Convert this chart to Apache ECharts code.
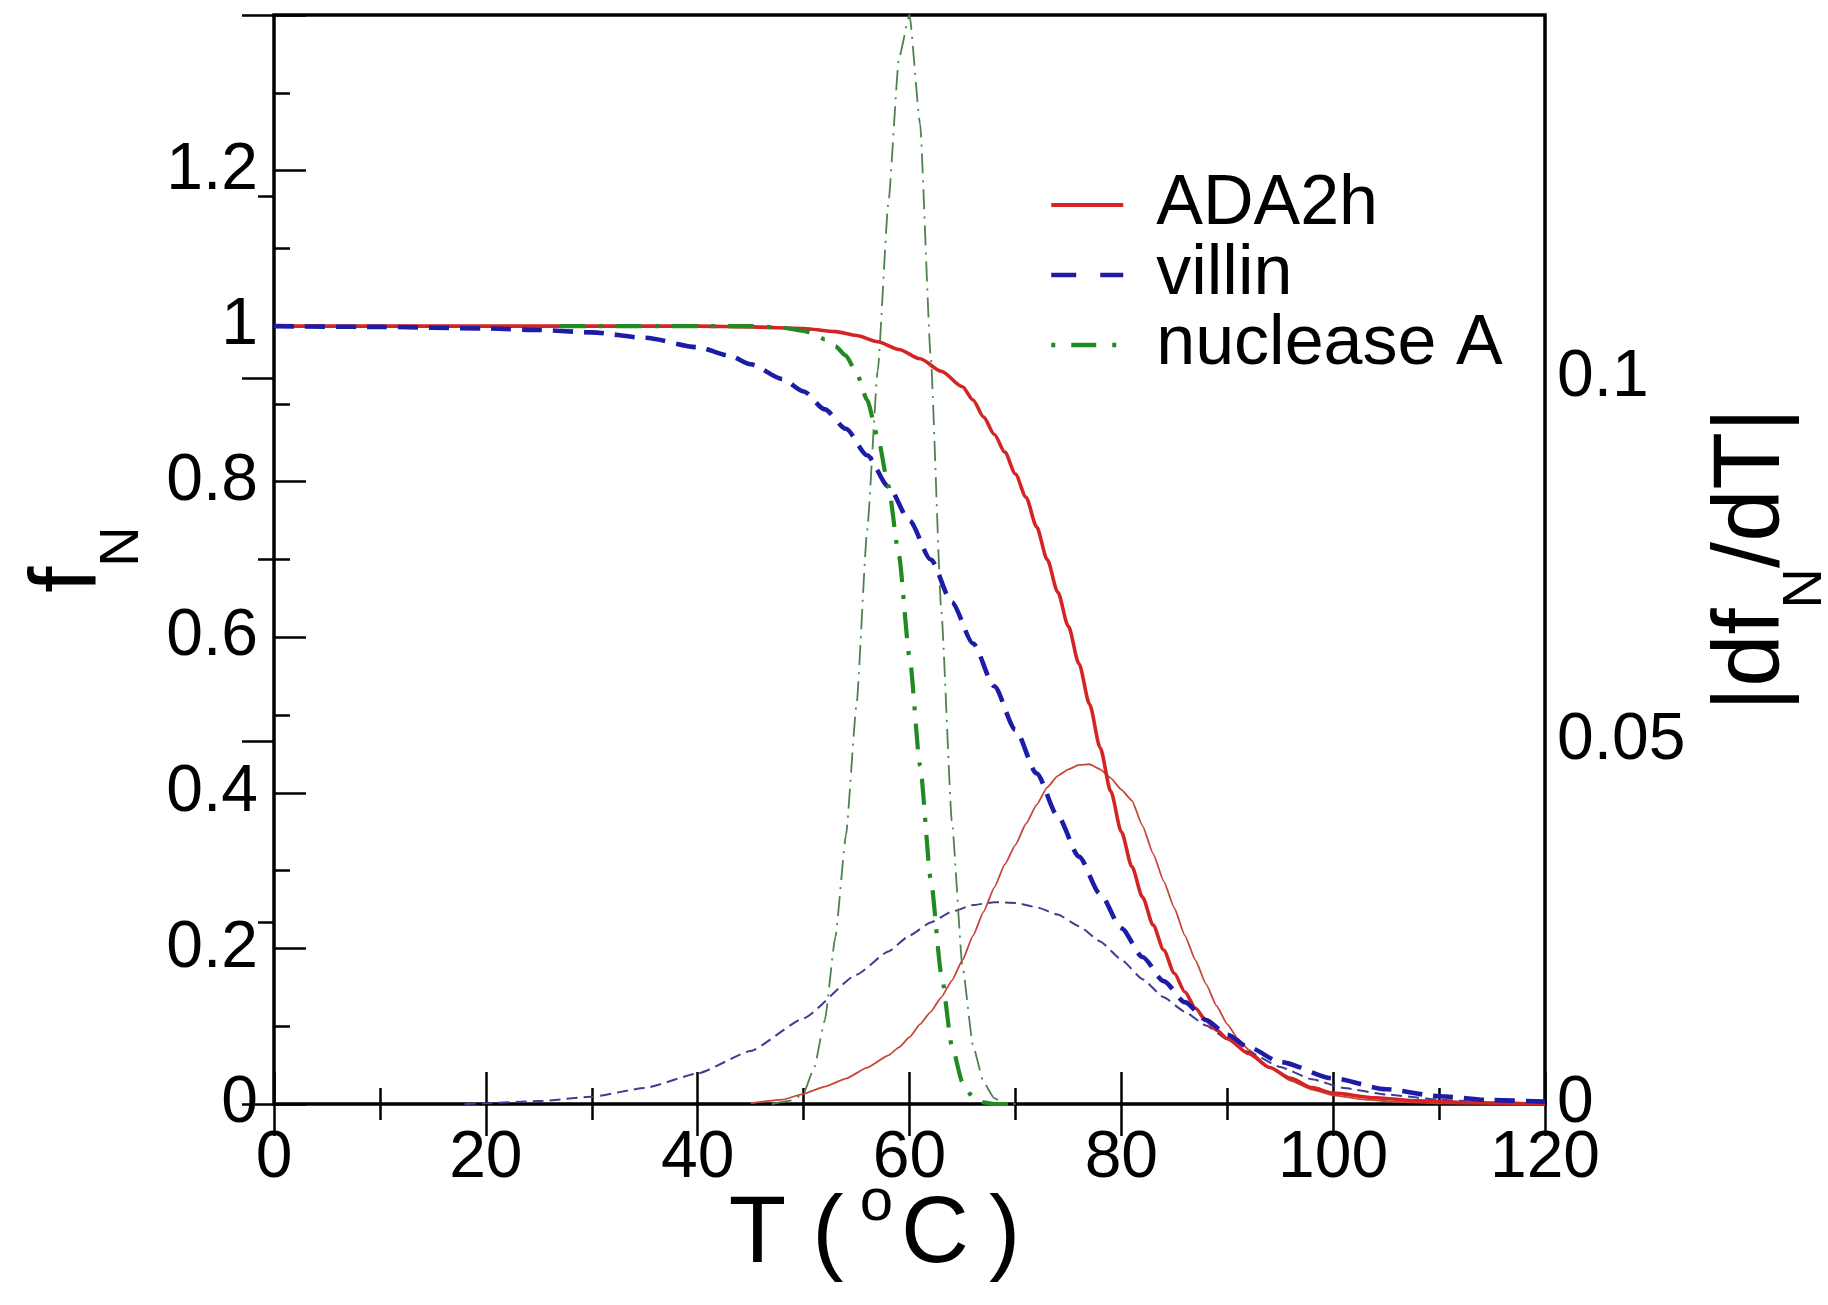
<!DOCTYPE html>
<html>
<head>
<meta charset="utf-8">
<script src="https://cdn.jsdelivr.net/npm/echarts@6/dist/echarts.min.js"></script>
<style>
html,body{margin:0;padding:0;background:#fff;}
#chart{width:1828px;height:1305px;}
</style>
</head>
<body>
<div id="chart"></div>
<script>
// ---- data (T in °C, value) ----
const xTickLabels = ['0', '20', '40', '60', '80', '100', '120'];
const fTickLabels = ['0', '0.2', '0.4', '0.6', '0.8', '1', '1.2'];
const dTickLabels = ['0', '0.05', '0.1'];
const legendNames = ['ADA2h', 'villin', 'nuclease A'];

// fraction native f_N (left axis)
const ada2hF = [[0,1],[20,1],[40,1],[45,0.999],[50,0.997],[53,0.993],[55,0.988],[57,0.980],[59,0.970],[61,0.958],[63,0.942],[65,0.922],[66,0.905],[67,0.883],[68,0.861],[69,0.838],[70,0.810],[71,0.780],[72,0.742],[73,0.700],[74,0.658],[75,0.614],[76,0.566],[77,0.514],[78,0.458],[79,0.402],[80,0.350],[81,0.305],[82,0.266],[83,0.230],[84,0.198],[85,0.168],[86,0.144],[87,0.123],[88,0.107],[89,0.095],[90,0.084],[92,0.065],[94,0.047],[96,0.033],[98,0.021],[100,0.014],[104,0.008],[108,0.004],[112,0.002],[120,0]];
const villinF = [[0,1],[10,0.999],[20,0.997],[25,0.995],[30,0.992],[35,0.985],[40,0.973],[43,0.962],[45,0.951],[48,0.932],[50,0.916],[52,0.893],[54,0.868],[56,0.834],[58,0.794],[60,0.750],[62,0.700],[64,0.645],[66,0.592],[68,0.537],[70,0.481],[72,0.425],[74,0.370],[76,0.318],[78,0.270],[80,0.226],[82,0.189],[84,0.158],[86,0.131],[88,0.108],[90,0.089],[92,0.073],[95,0.054],[100,0.033],[105,0.019],[110,0.010],[115,0.005],[120,0.003]];
const nucleaseF = [[27,1],[40,1],[45,1],[48,0.998],[50,0.994],[51,0.990],[52,0.983],[53,0.974],[54,0.962],[55,0.940],[56,0.905],[57,0.858],[58,0.795],[59,0.705],[60,0.575],[61,0.435],[62,0.290],[63,0.168],[64,0.075],[65,0.028],[66,0.008],[67,0.002],[68,0],[70,0]];

// |df_N/dT| (right axis)
const ada2hD = [[45,0.0001],[48,0.0006],[50,0.0014],[52,0.0024],[54,0.0035],[56,0.005],[58,0.0067],[59,0.0078],[60,0.0092],[61,0.011],[62,0.0127],[63,0.0147],[64,0.017],[65,0.0198],[66,0.0232],[67,0.0265],[68,0.0298],[69,0.033],[70,0.0357],[71,0.0386],[72,0.0412],[73,0.0436],[74,0.0452],[75,0.0461],[76,0.0467],[77,0.0468],[78,0.0461],[79,0.0449],[80,0.0433],[81,0.0418],[82,0.0383],[83,0.0345],[84,0.0307],[85,0.027],[86,0.0232],[87,0.0198],[88,0.0165],[89,0.0135],[90,0.011],[91,0.009],[92,0.0075],[94,0.005],[96,0.0032],[98,0.002],[100,0.0012],[103,0.0006],[106,0.0003],[110,0.0001],[120,0]];
const villinD = [[18,0],[20,0.0001],[25,0.0004],[30,0.001],[35,0.0022],[40,0.0042],[45,0.0073],[50,0.0118],[55,0.0178],[58,0.021],[60,0.0232],[62,0.025],[64,0.0265],[66,0.0274],[68,0.0278],[70,0.0277],[72,0.0271],[74,0.0261],[76,0.0245],[78,0.0224],[80,0.0199],[82,0.0172],[84,0.0147],[86,0.0127],[88,0.0108],[90,0.0089],[92,0.0072],[95,0.0051],[98,0.0034],[101,0.0022],[105,0.0013],[110,0.0006],[115,0.0002],[120,0.0001]];
const nucleaseD = [[47,0],[49,0.0005],[50,0.0015],[51,0.005],[52,0.0115],[53,0.023],[54,0.037],[55,0.055],[56,0.079],[57,0.101],[58,0.124],[59,0.144],[60,0.150],[61,0.135],[62,0.103],[63,0.068],[64,0.039],[65,0.019],[66,0.008],[67,0.003],[68,0.0008],[69,0.0001],[70,0]];

// ---- chart ----
const FONT = '"Liberation Sans", Arial, Helvetica, sans-serif';
const chart = echarts.init(document.getElementById('chart'), null, {renderer: 'canvas'});

const tickStyle = {color: '#000', width: 2.5};
function xAxisCfg(pos, showLabels) {
  return {
    type: 'value', position: pos, min: 0, max: 120, interval: 20,
    axisLine: {show: false},
    axisTick: {show: true, inside: true, length: 32, lineStyle: tickStyle},
    minorTick: {show: true, splitNumber: 2, length: 16, lineStyle: tickStyle},
    splitLine: {show: false}, minorSplitLine: {show: false},
    axisLabel: {
      show: showLabels, fontSize: 66, color: '#000', fontFamily: FONT, margin: 22,
      formatter: v => xTickLabels[Math.round(v / 20)] ?? ''
    }
  };
}
const titleRich = {
  m: {fontSize: 94, lineHeight: 161, fontFamily: FONT, color: '#000'},
  s: {fontSize: 56, lineHeight: 56, verticalAlign: 'bottom', fontFamily: FONT, color: '#000'}
};

const xBottom = xAxisCfg('bottom', true);
xBottom.name = '{m|T (}{s|o}{m|C}{p|)}';
xBottom.nameLocation = 'middle';
xBottom.nameGap = 49;
xBottom.nameMoveOverlap = false;
xBottom.nameTextStyle = {
  color: '#000', fontFamily: FONT, padding: [0, 70, 0, 0],
  rich: {
    m: {fontSize: 94, lineHeight: 166, fontFamily: FONT, color: '#000'},
    s: {fontSize: 60, lineHeight: 60, verticalAlign: 'top', fontFamily: FONT, color: '#000', padding: [20, 8, 0, 16]},
    p: {fontSize: 94, lineHeight: 166, fontFamily: FONT, color: '#000', padding: [0, 0, 0, 20]}
  }
};

const option = {
  backgroundColor: '#fff',
  animation: false,
  grid: {left: 274, right: 283, top: 15, bottom: 201, containLabel: false, outerBoundsMode: 'none',
         show: true, borderColor: '#000', borderWidth: 3.5, backgroundColor: 'transparent'},
  legend: {
    orient: 'vertical', left: 1049, top: 170, padding: 0,
    itemWidth: 72, itemHeight: 69, itemGap: 0,
    itemStyle: {color: 'rgba(0,0,0,0)', borderColor: 'rgba(0,0,0,0)', borderWidth: 0, opacity: 0},
    lineStyle: {width: 4},
    textStyle: {fontSize: 70, lineHeight: 69, fontFamily: FONT, color: '#000', padding: [0, 0, 0, 28]},
    data: [
      {name: legendNames[0], lineStyle: {width: 4}},
      {name: legendNames[1], lineStyle: {width: 4.5, type: [25, 24]}},
      {name: legendNames[2], lineStyle: {width: 4.5, type: [4, 16, 25, 16]}}
    ]
  },
  xAxis: [xBottom, xAxisCfg('top', false)],
  yAxis: [
    {
      type: 'value', position: 'left', min: 0, max: 1.4, interval: 0.2,
      axisLine: {show: false},
      axisTick: {show: true, inside: true, length: 32, lineStyle: tickStyle},
      minorTick: {show: true, splitNumber: 2, length: 16, lineStyle: tickStyle},
      splitLine: {show: false}, minorSplitLine: {show: false},
      axisLabel: {
        fontSize: 66, color: '#000', fontFamily: FONT, margin: 16, showMaxLabel: false,
        formatter: v => fTickLabels[Math.round(v / 0.2)] ?? ''
      },
      name: '{m|f}{s|N}', nameLocation: 'middle', nameRotate: 90, nameGap: 123, nameMoveOverlap: false,
      nameTextStyle: {color: '#000', fontFamily: FONT, rich: titleRich}
    },
    {
      type: 'value', position: 'right', min: 0, max: 0.15, interval: 0.05,
      axisLine: {show: false},
      axisTick: {show: true, inside: true, length: 32, lineStyle: tickStyle},
      minorTick: {show: true, splitNumber: 2, length: 16, lineStyle: tickStyle},
      splitLine: {show: false}, minorSplitLine: {show: false},
      axisLabel: {
        fontSize: 66, color: '#000', fontFamily: FONT, margin: 12, showMaxLabel: false,
        formatter: v => dTickLabels[Math.round(v / 0.05)] ?? ''
      },
      name: '{m||df}{s|N}{m|/dT|}', nameLocation: 'middle', nameRotate: 90, nameGap: 128, nameMoveOverlap: false,
      nameTextStyle: {color: '#000', fontFamily: FONT, rich: titleRich}
    }
  ],
  series: [
    {name: legendNames[0], type: 'line', yAxisIndex: 0, data: ada2hF, symbol: 'none', smooth: 0.25, smoothMonotone: 'x', z: 4,
     lineStyle: {color: '#d42424', width: 3.6, type: 'solid'}, itemStyle: {color: '#d42424'}},
    {name: legendNames[1], type: 'line', yAxisIndex: 0, data: villinF, symbol: 'none', smooth: 0.25, smoothMonotone: 'x', z: 4,
     lineStyle: {color: '#1c1ca6', width: 4.6, type: [20, 11]}, itemStyle: {color: '#1c1ca6'}},
    {name: legendNames[2], type: 'line', yAxisIndex: 0, data: nucleaseF, symbol: 'none', smooth: 0.2, smoothMonotone: 'x', z: 4,
     lineStyle: {color: '#228a22', width: 4.2, type: [26, 13, 4, 13]}, itemStyle: {color: '#228a22'}},
    {name: legendNames[0], type: 'line', yAxisIndex: 1, data: ada2hD, symbol: 'none', smooth: 0.15, smoothMonotone: 'x', z: 3,
     lineStyle: {color: '#c8463a', width: 1.8, type: 'solid'}, itemStyle: {color: '#c8463a'}},
    {name: legendNames[1], type: 'line', yAxisIndex: 1, data: villinD, symbol: 'none', smooth: 0.15, smoothMonotone: 'x', z: 3,
     lineStyle: {color: '#3e3e92', width: 2, type: [11, 6]}, itemStyle: {color: '#3e3e92'}},
    {name: legendNames[2], type: 'line', yAxisIndex: 1, data: nucleaseD, symbol: 'none', smooth: 0.15, smoothMonotone: 'x', z: 3,
     lineStyle: {color: '#4f824f', width: 1.8, type: [20, 7, 2, 7]}, itemStyle: {color: '#4f824f'}}
  ]
};
chart.setOption(option);
</script>
</body>
</html>
